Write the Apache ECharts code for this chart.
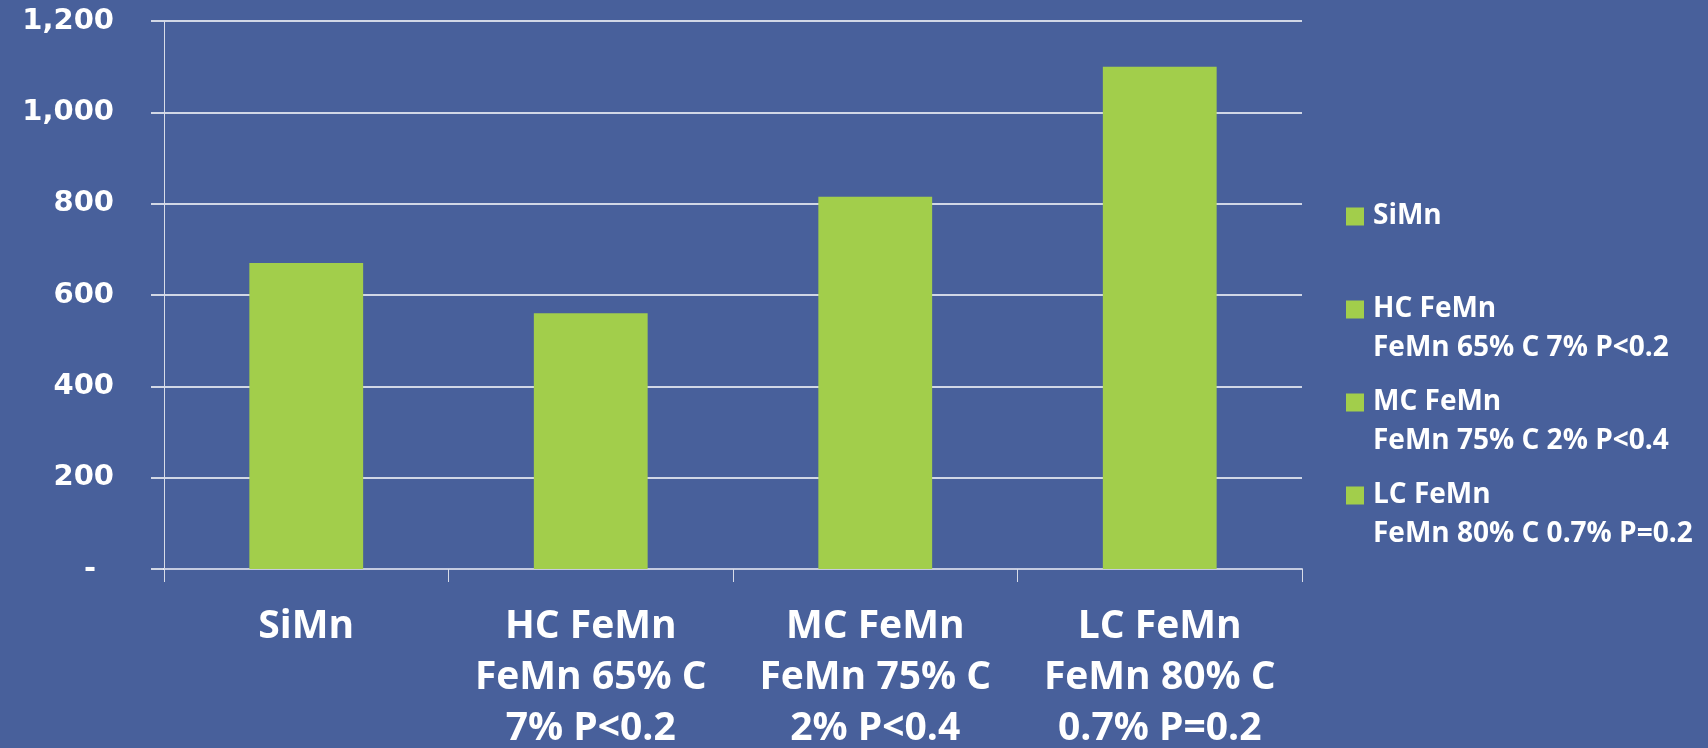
<!DOCTYPE html>
<html>
<head>
<meta charset="utf-8">
<script src="https://cdn.jsdelivr.net/npm/echarts@6/dist/echarts.min.js"></script>
<style>
  html, body { margin: 0; padding: 0; background: #48609b; }
  #main { width: 1708px; height: 748px; }
</style>
</head>
<body>
<div id="main"></div>
<script>
// axis labels (wrapped like the slide)
var categories = [
  'SiMn',
  'HC FeMn\nFeMn 65% C\n7% P<0.2',
  'MC FeMn\nFeMn 75% C\n2% P<0.4',
  'LC FeMn\nFeMn 80% C\n0.7% P=0.2'
]
// legend names
var seriesNames = [
  'SiMn',
  'HC FeMn\nFeMn 65% C 7% P<0.2',
  'MC FeMn\nFeMn 75% C 2% P<0.4',
  'LC FeMn\nFeMn 80% C 0.7% P=0.2'
]
var values = [670, 560, 815, 1100]
var yTicks = { min: 0, max: 1200, interval: 200 }

var green = '#a2ce4b'
var textFont = '"Open Sans", sans-serif'

var chart = echarts.init(document.getElementById('main'))

var series = seriesNames.map(function (name, i) {
  var data = values.map(function (v, j) { return j === i ? v : '-' })
  return {
    name: name,
    type: 'bar',
    stack: 'all',
    barWidth: '40%',
    itemStyle: { color: green },
    data: data
  }
})

var option = {
  backgroundColor: '#48609b',
  animation: false,
  // keep the plot where the slide has it, labels may run to the edge
  grid: { left: 164, right: 406, top: 21, bottom: 179, outerBoundsMode: 'none', containLabel: false },
  legend: {
    orient: 'vertical',
    left: 1346,
    top: 158,
    padding: 0,
    itemGap: -24,
    itemWidth: 18,
    itemHeight: 18,
    icon: 'rect',
    selectedMode: false,
    data: seriesNames,
    // push the icon onto the first line of the two-line names
    formatter: function (name) {
      var lines = name.split('\n')
      while (lines.length < 2) lines.push('')
      return [''].concat(lines).join('\n')
    },
    textStyle: {
      color: '#ffffff',
      fontFamily: textFont,
      fontWeight: 'bold',
      fontSize: 28,
      lineHeight: 39,
      padding: [0, 0, 0, 4]
    }
  },
  xAxis: {
    type: 'category',
    data: categories,
    axisLine: { lineStyle: { color: '#c5cbe0', width: 2 } },
    axisTick: { show: true, length: 13, lineStyle: { color: '#d8dce8', width: 1 } },
    axisLabel: {
      color: '#ffffff',
      fontFamily: textFont,
      fontWeight: 'bold',
      fontSize: 39,
      lineHeight: 51,
      margin: 32,
      interval: 0
    }
  },
  yAxis: {
    type: 'value',
    min: yTicks.min,
    max: yTicks.max,
    interval: yTicks.interval,
    axisLine: { show: true, lineStyle: { color: '#d8dce8', width: 1 } },
    axisTick: { show: true, length: 13, lineStyle: { color: '#ffffff', width: 1.5 } },
    splitLine: { lineStyle: { color: '#ffffff', width: 1.5 } },
    axisLabel: {
      color: '#ffffff',
      fontFamily: '"DejaVu Sans", sans-serif',
      fontWeight: 'bold',
      fontSize: 29,
      margin: 50,
      formatter: function (v) {
        if (v === 0) return '{d|-}'
        return v.toLocaleString('en-US')
      },
      rich: {
        d: {
          color: '#ffffff',
          fontFamily: '"DejaVu Sans", sans-serif',
          fontWeight: 'bold',
          fontSize: 29,
          padding: [0, 18, 0, 0]
        }
      }
    }
  },
  series: series
}

chart.setOption(option)
</script>
</body>
</html>
